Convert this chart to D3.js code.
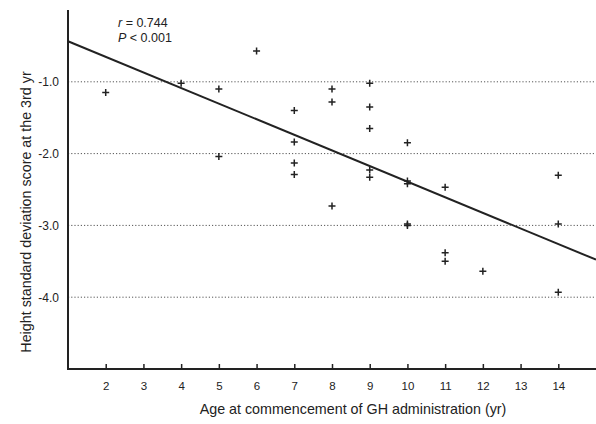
<!DOCTYPE html>
<html>
<head>
<meta charset="utf-8">
<script src="https://cdn.jsdelivr.net/npm/d3@7"></script>
<style>
  body { margin: 0; background: #fff; }
  text { font-family: "Liberation Sans", Arial, sans-serif; fill: #222; }
</style>
</head>
<body>
<div id="chart"></div>
<script>
// data
var ages = [2, 4, 5, 5, 6, 7, 7, 7, 7, 8, 8, 8, 9, 9, 9, 9, 9, 10, 10, 10, 10, 10, 11, 11, 11, 12, 14, 14, 14];
var sds  = [-1.15, -1.02, -1.10, -2.04, -0.57, -1.40, -1.84, -2.13, -2.29, -1.10, -1.28, -2.73,
            -1.02, -1.35, -1.65, -2.23, -2.33, -1.85, -2.38, -2.42, -2.98, -3.00, -2.47, -3.38, -3.50,
            -3.64, -2.30, -2.98, -3.93];
var xTicks = [2, 3, 4, 5, 6, 7, 8, 9, 10, 11, 12, 13, 14];
var yTicks = [-1, -2, -3, -4];
var fitLine = [{ x: 1, y: -0.435 }, { x: 15, y: -3.477 }];

var svgWidth = 596, svgHeight = 424;
var margin = { top: 10, bottom: 55, right: 0, left: 68 };
var width = svgWidth - margin.left - margin.right;
var height = svgHeight - margin.top - margin.bottom;

var svg = d3.select("#chart").append("svg")
    .attr("width", svgWidth).attr("height", svgHeight);

var chartGroup = svg.append("g")
    .attr("transform", `translate(${margin.left}, ${margin.top})`);

var xScale = d3.scaleLinear().domain([1, 15]).range([0, width]);
var yScale = d3.scaleLinear().domain([-5, 0]).range([height, 0]);

// dotted grid lines
chartGroup.selectAll(".grid")
    .data(yTicks)
    .enter()
    .append("line")
    .attr("x1", 0).attr("x2", width)
    .attr("y1", d => yScale(d)).attr("y2", d => yScale(d))
    .attr("stroke", "#555")
    .attr("stroke-width", 1)
    .attr("stroke-dasharray", "1.2,2");

// y tick labels
chartGroup.selectAll(".ylab")
    .data(yTicks)
    .enter()
    .append("text")
    .attr("x", -9)
    .attr("y", d => yScale(d))
    .attr("dy", "0.36em")
    .attr("text-anchor", "end")
    .style("font-size", "12px")
    .text(d => d.toFixed(1));

// x axis
var bottomAxis = d3.axisBottom(xScale).tickValues(xTicks).tickSize(-5).tickPadding(13);
var xAxis = chartGroup.append("g")
    .attr("transform", `translate(0, ${height})`)
    .call(bottomAxis);
xAxis.select(".domain").remove();
xAxis.selectAll(".tick line").attr("stroke", "#222").attr("stroke-width", 1.5);
xAxis.selectAll(".tick text").style("font-size", "11.5px")
    .style("font-family", "Liberation Sans, Arial, sans-serif").attr("fill", "#222");

// axis lines
chartGroup.append("line")
    .attr("x1", 0).attr("x2", width).attr("y1", height).attr("y2", height)
    .attr("stroke", "#222").attr("stroke-width", 2);
chartGroup.append("line")
    .attr("x1", 0).attr("x2", 0).attr("y1", 0).attr("y2", height + 1)
    .attr("stroke", "#222").attr("stroke-width", 2);

// regression line
var line = d3.line().x(d => xScale(d.x)).y(d => yScale(d.y));
chartGroup.append("path")
    .datum(fitLine)
    .attr("d", line)
    .attr("fill", "none")
    .attr("stroke", "#222")
    .attr("stroke-width", 2);

// plus markers
var pts = ages.map((a, i) => ({ x: a, y: sds[i] }));
chartGroup.selectAll(".pt")
    .data(pts)
    .enter()
    .append("path")
    .attr("class", "pt")
    .attr("transform", d => `translate(${xScale(d.x)}, ${yScale(d.y)})`)
    .attr("d", "M-3.5,0H3.5M0,-3.5V3.5")
    .attr("stroke", "#222")
    .attr("stroke-width", 1.5);

// stats annotation
var ann = chartGroup.append("text")
    .attr("x", 50).attr("y", 17)
    .style("font-size", "12.5px");
ann.append("tspan").style("font-style", "italic").text("r");
ann.append("tspan").text(" = 0.744");
var ann2 = chartGroup.append("text")
    .attr("x", 50).attr("y", 32)
    .style("font-size", "12.5px");
ann2.append("tspan").style("font-style", "italic").text("P");
ann2.append("tspan").text(" < 0.001");

// axis titles
svg.append("text")
    .attr("transform", "rotate(-90)")
    .attr("x", -212)
    .attr("y", 31)
    .attr("text-anchor", "middle")
    .style("font-size", "14.3px")
    .text("Height standard deviation score at the 3rd yr");

svg.append("text")
    .attr("x", 353)
    .attr("y", 414)
    .attr("text-anchor", "middle")
    .style("font-size", "14.3px")
    .text("Age at commencement of GH administration (yr)");
</script>
</body>
</html>
